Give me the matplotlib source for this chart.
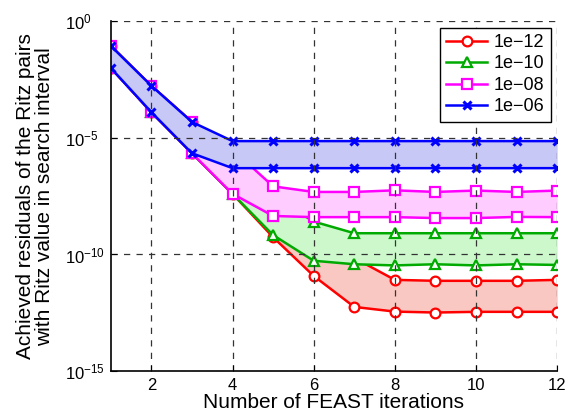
import numpy as np
import matplotlib
matplotlib.use("Agg")
import matplotlib.pyplot as plt

plt.rcParams['font.family'] = ['Liberation Sans', 'DejaVu Sans']
plt.rcParams['mathtext.fontset'] = 'custom'
plt.rcParams['mathtext.rm'] = 'Liberation Sans'
plt.rcParams['mathtext.it'] = 'Liberation Sans:italic'

# FEAST iterations
iters = np.arange(1, 13)

# log10 of achieved residuals: upper and lower envelope per tolerance
upper_1e12 = [-1.06, -2.77, -4.32, -5.50, -7.50, -9.00, -10.15, -11.09, -11.13, -11.13, -11.13, -11.09]
lower_1e12 = [-2.00, -3.90, -5.66, -7.40, -9.26, -10.92, -12.25, -12.45, -12.49, -12.46, -12.46, -12.46]
upper_1e10 = [-1.06, -2.77, -4.32, -5.50, -7.50, -8.59, -9.09, -9.09, -9.09, -9.09, -9.09, -9.09]
lower_1e10 = [-2.00, -3.90, -5.66, -7.40, -9.17, -10.27, -10.42, -10.47, -10.42, -10.47, -10.42, -10.45]
upper_1e08 = [-1.06, -2.77, -4.32, -5.50, -7.08, -7.32, -7.32, -7.25, -7.32, -7.26, -7.32, -7.26]
lower_1e08 = [-2.00, -3.90, -5.66, -7.40, -8.35, -8.40, -8.40, -8.40, -8.44, -8.44, -8.39, -8.40]
upper_1e06 = [-1.06, -2.77, -4.32, -5.14, -5.14, -5.14, -5.14, -5.14, -5.14, -5.14, -5.14, -5.14]
lower_1e06 = [-2.00, -3.90, -5.66, -6.30, -6.30, -6.30, -6.30, -6.30, -6.30, -6.30, -6.30, -6.30]

labels = ['1e\u221212', '1e\u221210', '1e\u221208', '1e\u221206']
colors = ['red', '#00aa00', 'magenta', 'blue']
fills = ['#f9c8c2', '#ccf8cc', '#ffccff', '#c8c8f6']
markers = ['o', '^', 's', 'x']
uppers = [upper_1e12, upper_1e10, upper_1e08, upper_1e06]
lowers = [lower_1e12, lower_1e10, lower_1e08, lower_1e06]

fig = plt.figure(figsize=(5.68, 4.16), dpi=100)
ax = fig.add_axes([0.195, 0.108, 0.786, 0.841])

# each tolerance: opaque fill, then its two lines; later ones cover earlier
for i, (up, lo, c, fc, m, lab) in enumerate(zip(uppers, lowers, colors, fills, markers, labels)):
    up = 10.0 ** np.array(up)
    lo = 10.0 ** np.array(lo)
    z = 1 + 0.3 * i
    ax.fill_between(iters, lo, up, color=fc, linewidth=0, zorder=z)
    if m == 'x':
        kw = dict(color=c, marker='x', markersize=6, markeredgewidth=2.2, linewidth=1.8)
    else:
        kw = dict(color=c, marker=m, markersize=7, markerfacecolor='white',
                  markeredgecolor=c, markeredgewidth=1.6, linewidth=1.8)
    ax.plot(iters, up, label=lab, zorder=z + 0.1, **kw)
    ax.plot(iters, lo, zorder=z + 0.1, **kw)

ax.set_yscale('log')
ax.set_xlim(1, 12)
ax.set_ylim(1e-15, 1e0)
ax.set_xticks([2, 4, 6, 8, 10, 12])
ax.set_yticks([1e-15, 1e-10, 1e-5, 1e0])
ax.yaxis.set_minor_locator(matplotlib.ticker.NullLocator())
ax.tick_params(direction='in', labelsize=12, length=4)
ax.tick_params(axis='x', pad=5)
ax.tick_params(axis='y', pad=33)
for t in ax.get_yticklabels():
    t.set_horizontalalignment('left')

ax.set_axisbelow(False)
ax.grid(True, color='0.2', linestyle=(0, (5, 5)), linewidth=0.9, zorder=2.5)
ax.spines['top'].set_visible(False)
ax.spines['right'].set_visible(False)
ax.spines['left'].set_linewidth(1.2)
ax.spines['bottom'].set_linewidth(1.2)

ax.set_xlabel('Number of FEAST iterations', fontsize=15, labelpad=0)
ax.set_ylabel('Achieved residuals of the Ritz pairs\nwith Ritz value in search interval',
              fontsize=15, labelpad=8, linespacing=1.0)

leg = ax.legend(loc='upper right', fontsize=13, fancybox=False, framealpha=1,
                edgecolor='black', borderaxespad=0.35, handlelength=2.3,
                handletextpad=0.35, labelspacing=0.25, borderpad=0.35)
leg.get_frame().set_linewidth(1.0)
leg.set_zorder(5)

fig.savefig('out.png', dpi=100)
